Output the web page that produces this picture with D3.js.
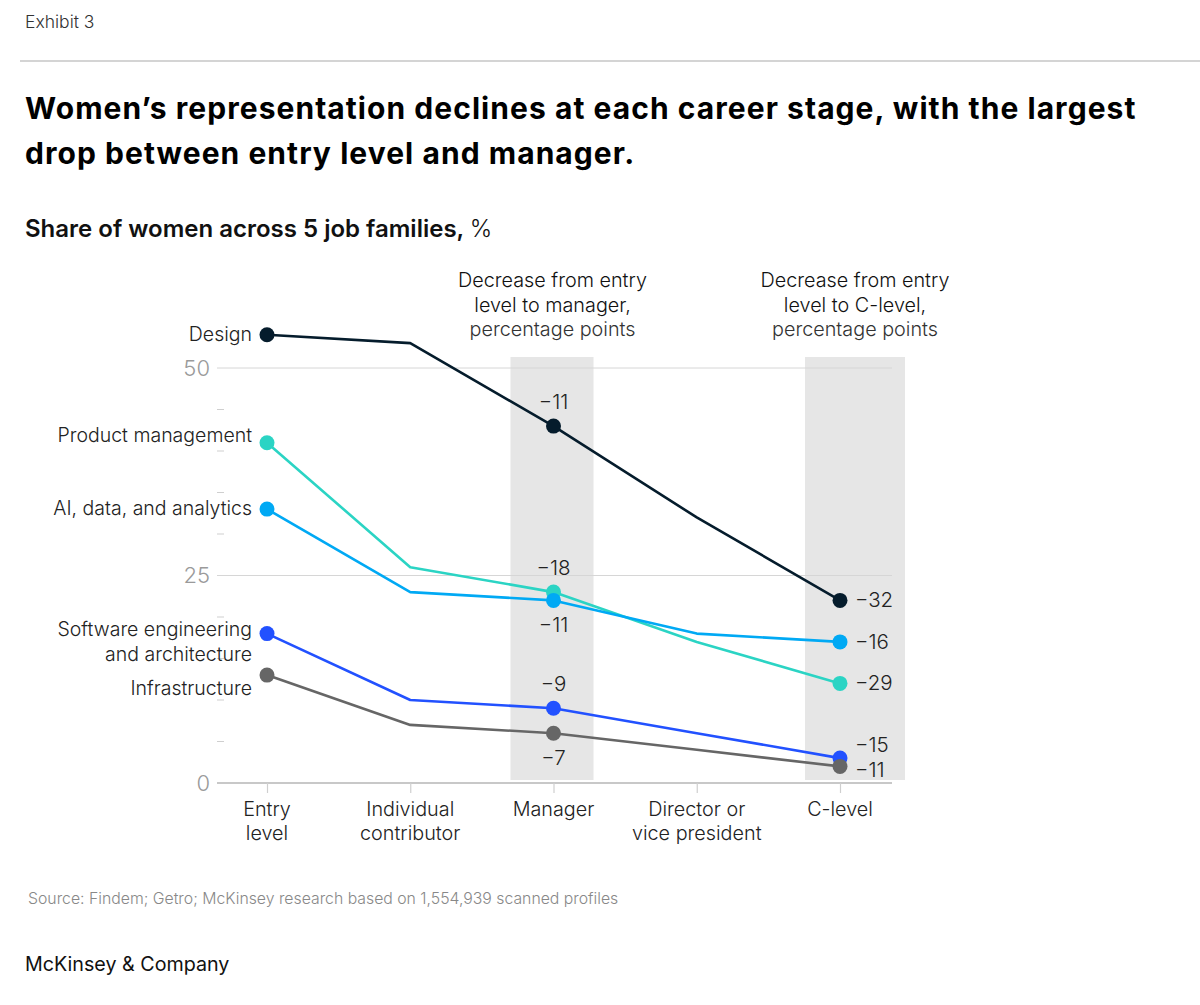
<!DOCTYPE html>
<html>
<head>
<meta charset="utf-8">
<script src="https://cdn.jsdelivr.net/npm/d3@7"></script>
<style>
  body { margin: 0; background: #fff; }
  svg text { font-family: Inter, "Open Sans", sans-serif; }
</style>
</head>
<body>
<svg id="canvas" width="1200" height="1005"></svg>
<script>
let stages = ["Entry level", "Individual contributor", "Manager", "Director or vice president", "C-level"];
let stageLines = [["Entry", "level"], ["Individual", "contributor"], ["Manager"], ["Director or", "vice president"], ["C-level"]];
let families = ["Design", "Product management", "AI, data, and analytics", "Software engineering and architecture", "Infrastructure"];
let familyLines = [["Design"], ["Product management"], ["AI, data, and analytics"], ["Software engineering", "and architecture"], ["Infrastructure"]];
let design = [54, 53, 43, 32, 22];
let productMgmt = [41, 26, 23, 17, 12];
let aiData = [33, 23, 22, 18, 17];
let software = [18, 10, 9, 6, 3];
let infrastructure = [13, 7, 6, 4, 2];
let majorTicks = [0, 25, 50];
let minorTicks = [5, 10, 15, 20, 30, 35, 40, 45];
let colors = ["#051c2c", "#2bd4c4", "#00a9f4", "#2251ff", "#666666"];

// label placement (pixel nudges, not data)
let managerLabelPos = ["above", "above", "below", "above", "below"];
let cLevelLabelDy = [0, 0, 0, -13, 4];
let familyLabelDy = [6, -1, 6, 2, 20];

let seriesValues = [design, productMgmt, aiData, software, infrastructure];
let series = families.map((name, i) => ({ name: name, lines: familyLines[i], values: seriesValues[i], color: colors[i], idx: i }));

let svg = d3.select("#canvas");
let minus = (v) => (v < 0 ? "\u2212" + Math.abs(v) : "" + v);
let textColor = "#222";

// header
svg.append("text").attr("x", 25).attr("y", 28).attr("font-size", 17.5).attr("fill", "#333").attr("font-weight", 300).text("Exhibit 3");
svg.append("line").attr("x1", 20).attr("x2", 1200).attr("y1", 61).attr("y2", 61).attr("stroke", "#aaa").attr("stroke-width", 1.2);
let titleLines = ["Women\u2019s representation declines at each career stage, with the largest", "drop between entry level and manager."];
svg.selectAll(".title").data(titleLines).enter().append("text")
  .attr("class", "title").attr("x", 25).attr("y", (d, i) => 119 + i * 45)
  .attr("font-size", 30).attr("font-weight", 700).attr("letter-spacing", 1.05)
  .attr("fill", "#000").text(d => d);
let sub = svg.append("text").attr("x", 25).attr("y", 237).attr("font-size", 24).attr("fill", "#111");
sub.append("tspan").attr("font-weight", 600).text("Share of women across 5 job families, ");
sub.append("tspan").attr("font-weight", 300).text("%");

// scales
let x = d3.scalePoint().domain(stages).range([267, 840]);
let y = d3.scaleLinear().domain([0, 50]).range([783, 368]);

// shaded columns
let shaded = [stages[2], stages[4]];
let shadeLeft = [43, 35], shadeRight = [40, 65];
svg.selectAll(".band").data(shaded).enter().append("rect")
  .attr("class", "band")
  .attr("x", (d, i) => x(d) - shadeLeft[i])
  .attr("width", (d, i) => shadeLeft[i] + shadeRight[i])
  .attr("y", 357).attr("height", 423).attr("fill", "#e6e6e6");

// column headers
let headers = [["Decrease from entry", "level to manager,", "percentage points"], ["Decrease from entry", "level to C-level,", "percentage points"]];
let headerX = [x(stages[2]) - 1, x(stages[4]) + 15];
headers.forEach((h, j) => {
  svg.selectAll(".hdr" + j).data(h).enter().append("text")
    .attr("x", headerX[j]).attr("y", (d, i) => 287 + i * 24.5)
    .attr("text-anchor", "middle").attr("font-size", 19.8)
    .attr("fill", (d, i) => i === 2 ? "#333" : "#111")
    .attr("font-weight", 300)
    .text(d => d);
});

// gridlines
svg.selectAll(".grid").data(majorTicks.filter(d => d > 0)).enter().append("line")
  .attr("x1", 217).attr("x2", 892).attr("y1", d => y(d)).attr("y2", d => y(d))
  .attr("stroke", "#d6d6d6").attr("stroke-width", 1);
svg.append("line").attr("x1", 217).attr("x2", 892).attr("y1", y(0)).attr("y2", y(0))
  .attr("stroke", "#c8c8c8").attr("stroke-width", 2);

// y axis
let yAxis = d3.axisLeft(y).tickValues(majorTicks).tickSize(0).tickPadding(7);
let yg = svg.append("g").attr("transform", "translate(217,0)").call(yAxis);
yg.select(".domain").remove();
yg.selectAll("text").attr("font-size", 22).attr("fill", "#9a9a9a").attr("font-weight", 300)
  .attr("font-family", "Inter, sans-serif");
svg.selectAll(".minor").data(minorTicks).enter().append("line")
  .attr("x1", 217).attr("x2", 224).attr("y1", d => y(d)).attr("y2", d => y(d))
  .attr("stroke", "#cfcfcf").attr("stroke-width", 1);

// x axis
let xg = svg.append("g").attr("transform", "translate(0," + y(0) + ")")
  .call(d3.axisBottom(x).tickSize(10).tickFormat(""));
xg.select(".domain").remove();
xg.selectAll("line").attr("stroke", "#cfcfcf").attr("stroke-width", 1.2);
stages.forEach((s, i) => {
  svg.selectAll(".xl" + i).data(stageLines[i]).enter().append("text")
    .attr("x", x(s)).attr("y", (d, k) => 816 + k * 24)
    .attr("text-anchor", "middle").attr("font-size", 19.8).attr("fill", textColor).attr("font-weight", 300)
    .text(d => d);
});

// lines
let line = d3.line().x((d, i) => x(stages[i])).y(d => y(d));
svg.selectAll(".series").data(series).enter().append("path")
  .attr("d", d => line(d.values)).attr("fill", "none")
  .attr("stroke", d => d.color).attr("stroke-width", 2.6).attr("stroke-linejoin", "round");

// dots on entry, manager, C-level
let dotStages = [0, 2, 4];
series.forEach(s => {
  svg.selectAll(".dot" + s.idx).data(dotStages).enter().append("circle")
    .attr("cx", k => x(stages[k])).attr("cy", k => y(s.values[k])).attr("r", 7.5)
    .attr("fill", s.color);
});

// family labels
series.forEach(s => {
  svg.selectAll(".fl" + s.idx).data(s.lines).enter().append("text")
    .attr("x", 252).attr("y", (d, k) => y(s.values[0]) + familyLabelDy[s.idx] + k * 25)
    .attr("text-anchor", "end").attr("font-size", 19.5).attr("fill", textColor).attr("font-weight", 300)
    .text(d => d);
});

// decrease labels at manager
series.forEach(s => {
  let diff = s.values[2] - s.values[0];
  let above = managerLabelPos[s.idx] === "above";
  svg.append("text").attr("x", x(stages[2]))
    .attr("y", y(s.values[2]) + (above ? -17 : 32))
    .attr("text-anchor", "middle").attr("font-size", 20.5).attr("fill", textColor).attr("font-weight", 300)
    .text(minus(diff));
});

// decrease labels at C-level
series.forEach(s => {
  let diff = s.values[4] - s.values[0];
  svg.append("text").attr("x", x(stages[4]) + 15)
    .attr("y", y(s.values[4]) + 7 + cLevelLabelDy[s.idx])
    .attr("font-size", 20.5).attr("fill", textColor).attr("font-weight", 300)
    .text(minus(diff));
});

// footer
svg.append("text").attr("x", 28).attr("y", 904).attr("font-size", 15.8).attr("fill", "#888").attr("font-weight", 300)
  .text("Source: Findem; Getro; McKinsey research based on 1,554,939 scanned profiles");
svg.append("text").attr("x", 25).attr("y", 971).attr("font-size", 19.7).attr("fill", "#111").attr("font-weight", 400)
  .text("McKinsey & Company");
</script>
</body>
</html>
